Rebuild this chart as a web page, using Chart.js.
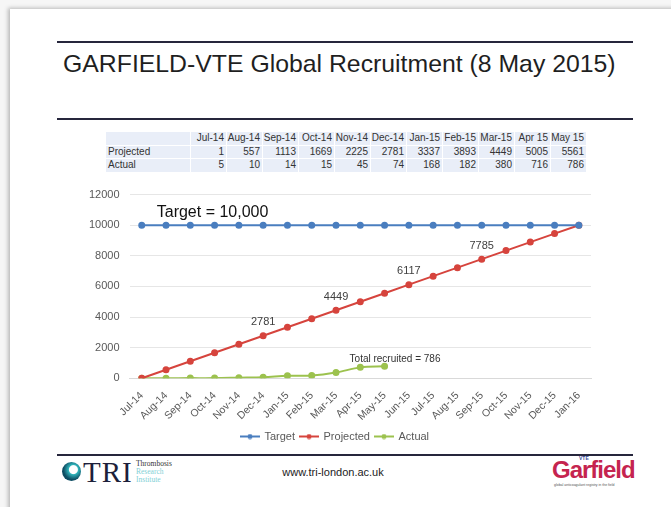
<!DOCTYPE html>
<html>
<head>
<meta charset="utf-8">
<script src="https://cdn.jsdelivr.net/npm/chart.js@4"></script>
<style>
  html, body { margin: 0; padding: 0; }
  body { width: 671px; height: 507px; background: #f6f6f6; position: relative; overflow: hidden; font-family: "Liberation Sans", Arial, sans-serif; }
  #slide { position: absolute; left: 10px; top: 9px; width: 680px; height: 520px; background: #fff; box-shadow: -2px -1px 4px rgba(0,0,0,0.25); }
  .rule { position: absolute; left: 57px; width: 576px; height: 2px; background: #26263c; }
  #title { position: absolute; left: 63px; top: 50px; font-size: 24.8px; color: #1f1f1f; white-space: nowrap; }
  #tbl { position: absolute; left: 105px; top: 131px; border-collapse: collapse; table-layout: fixed; font-size: 10px; color: #333; }
  #tbl td { background: #e9eef8; border: 1px solid #fff; padding: 0 2px 0 0; height: 12.5px; line-height: 12px; text-align: right; width: 33px; white-space: nowrap; }
  #tbl td.lab { text-align: left; width: 80px; padding-left: 2px; }
  #wrap { position: absolute; left: 60px; top: 178px; width: 560px; height: 274px; }
  #url { position: absolute; left: 0; width: 666px; top: 466px; text-align: center; font-size: 11px; color: #222; }
  #tri { position: absolute; left: 60px; top: 460px; height: 26px; }
  #tri .dot { position: absolute; left: 2px; top: 2px; width: 19px; height: 19px; border-radius: 50%; background: radial-gradient(circle at 60% 40%, #fff 0 4px, #2fb1b8 5px, #0d4d63 10px); }
  #tri .big { position: absolute; left: 23px; top: -4px; font-family: "Liberation Serif", serif; font-size: 29px; color: #1d1f3a; letter-spacing: 1px; }
  #tri .small { position: absolute; left: 76px; top: 0; font-family: "Liberation Serif", serif; font-size: 7.5px; line-height: 8px; color: #7fd0d6; white-space: nowrap; }
  #gf { position: absolute; left: 552px; top: 456px; }
  #gf .name { position: absolute; left: 0; top: 0; font-family: "Liberation Sans", Arial, sans-serif; font-weight: bold; font-size: 24px; color: #c5244f; letter-spacing: -1px; }
  #gf .vte { position: absolute; left: 27px; top: -1px; font-size: 5px; font-weight: bold; color: #3a4d9a; }
  #gf .tag { position: absolute; left: 2px; top: 27px; font-size: 3.5px; color: #555; white-space: nowrap; }
</style>
</head>
<body>
<div id="slide"></div>
<div class="rule" style="top:41px"></div>
<div id="title">GARFIELD-VTE Global Recruitment (8 May 2015)</div>
<div class="rule" style="top:118px"></div>
<table id="tbl"></table>
<div id="wrap"><canvas id="recruitChart"></canvas></div>
<div class="rule" style="top:454px"></div>
<div id="tri"><div class="dot"></div><div class="big">TRI</div><div class="small"><span style="color:#333">Thrombosis</span><br>Research<br>Institute</div></div>
<div id="url">www.tri-london.ac.uk</div>
<div id="gf"><div class="vte">VTE</div><div class="name">Garfield</div><div class="tag">global anticoagulant registry in the field</div></div>
<script>
// data
const months = ['Jul-14','Aug-14','Sep-14','Oct-14','Nov-14','Dec-14','Jan-15','Feb-15','Mar-15','Apr-15','May-15',
  'Jun-15','Jul-15','Aug-15','Sep-15','Oct-15','Nov-15','Dec-15','Jan-16'];
const tableMonths = ['Jul-14','Aug-14','Sep-14','Oct-14','Nov-14','Dec-14','Jan-15','Feb-15','Mar-15','Apr 15','May 15'];
const target = [10000,10000,10000,10000,10000,10000,10000,10000,10000,10000,10000,10000,10000,10000,10000,10000,10000,10000,10000];
const projected = [1,557,1113,1669,2225,2781,3337,3893,4449,5005,5561,6117,6673,7229,7785,8341,8897,9453,10000];
const actual = [5,10,14,15,45,74,168,182,380,716,786];
const labelledPoints = [5, 8, 11, 14];

// table
const tbl = document.getElementById('tbl');
function addRow(label, vals) {
  const tr = document.createElement('tr');
  const th = document.createElement('td');
  th.className = 'lab'; th.textContent = label; tr.appendChild(th);
  vals.forEach(v => { const td = document.createElement('td'); td.textContent = v; tr.appendChild(td); });
  tbl.appendChild(tr);
}
addRow('', tableMonths);
addRow('Projected', projected.slice(0, tableMonths.length));
addRow('Actual', actual);

const colors = ['#4a7ebf', '#d6443d', '#9cc24e'];
const font = '"Liberation Sans", Arial, sans-serif';

function legendIcon(color) {
  const c = document.createElement('canvas');
  c.width = 20; c.height = 6;
  const g = c.getContext('2d');
  g.strokeStyle = color; g.lineWidth = 2;
  g.beginPath(); g.moveTo(0, 3); g.lineTo(20, 3); g.stroke();
  g.fillStyle = color;
  g.beginPath(); g.arc(10, 3, 2.5, 0, Math.PI * 2); g.fill();
  return c;
}

const notes = {
  id: 'notes',
  afterDatasetsDraw(chart) {
    const { ctx, scales: { x, y } } = chart;
    ctx.save();
    ctx.fillStyle = '#404040';
    ctx.textAlign = 'center';
    ctx.textBaseline = 'bottom';
    ctx.font = '11px ' + font;
    labelledPoints.forEach(i => {
      ctx.fillText(String(projected[i]), x.getPixelForValue(i), y.getPixelForValue(projected[i]) - 8);
    });
    ctx.fillStyle = '#111';
    ctx.textAlign = 'left';
    ctx.font = '16px ' + font;
    ctx.fillText('Target = 10,000', x.getPixelForValue(0) + 15, y.getPixelForValue(10000) - 5);
    const last = actual.length - 1;
    ctx.fillStyle = '#333';
    ctx.font = '10px ' + font;
    ctx.fillText('Total recruited = ' + actual[last], x.getPixelForValue(last) - 35, y.getPixelForValue(actual[last]) - 2);
    ctx.restore();
  }
};

const ctx = document.getElementById('recruitChart').getContext('2d');
const recruitChart = new Chart(ctx, {
  type: 'line',
  data: {
    labels: months,
    datasets: [
      { label: 'Target', data: target, borderColor: colors[0], backgroundColor: colors[0], borderWidth: 2, pointRadius: 2.5, pointHoverRadius: 2.5 },
      { label: 'Projected', data: projected, borderColor: colors[1], backgroundColor: colors[1], borderWidth: 2, pointRadius: 2.5, pointHoverRadius: 2.5 },
      { label: 'Actual', data: actual, borderColor: colors[2], backgroundColor: colors[2], borderWidth: 2, pointRadius: 2.5, pointHoverRadius: 2.5, tension: 0.35 }
    ]
  },
  options: {
    responsive: true,
    maintainAspectRatio: false,
    animation: false,
    layout: { padding: { left: 19, right: 29, top: 8, bottom: 0 } },
    plugins: {
      legend: {
        position: 'bottom',
        labels: {
          usePointStyle: true,
          pointStyleWidth: 18,
          boxHeight: 6,
          padding: 5,
          color: '#595959',
          font: { size: 11, family: font },
          generateLabels(chart) {
            return Chart.defaults.plugins.legend.labels.generateLabels(chart).map(l => {
              l.pointStyle = legendIcon(colors[l.datasetIndex]);
              return l;
            });
          }
        }
      },
      tooltip: { enabled: false }
    },
    scales: {
      x: {
        offset: true,
        grid: { display: false },
        border: { color: '#d9d9d9' },
        ticks: { color: '#595959', font: { size: 10.5, family: font }, minRotation: 45, maxRotation: 45, autoSkip: false }
      },
      y: {
        min: 0, max: 12000,
        grid: { color: '#e6e6e6', drawTicks: false },
        border: { display: false },
        ticks: { stepSize: 2000, padding: 10, color: '#595959', font: { size: 11, family: font }, callback: v => String(v) }
      }
    }
  },
  plugins: [notes]
});
</script>
</body>
</html>
